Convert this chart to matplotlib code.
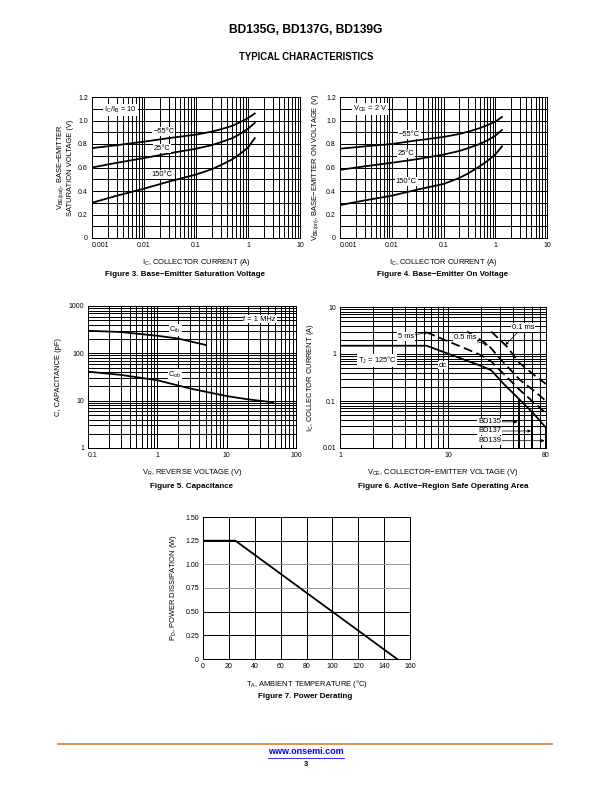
import numpy as np
import matplotlib
matplotlib.use('Agg')
import matplotlib.pyplot as plt
from matplotlib.ticker import LogLocator, FixedLocator, NullFormatter, FixedFormatter, MultipleLocator

plt.rcParams['font.family'] = ['Liberation Sans', 'DejaVu Sans']
plt.rcParams['font.size'] = 7
plt.rcParams['axes.linewidth'] = 1.0

# Figure 3: VBE(sat) vs IC (IC/IB = 10)
ic_sat = [0.001, 0.003, 0.01, 0.03, 0.1, 0.2, 0.3, 0.5, 0.7, 1.0, 1.35]
vbe_sat_m55 = [0.765, 0.79, 0.82, 0.85, 0.88, 0.905, 0.925, 0.955, 0.985, 1.02, 1.06]
vbe_sat_25 = [0.60, 0.64, 0.68, 0.72, 0.76, 0.79, 0.815, 0.85, 0.885, 0.93, 0.98]
vbe_sat_150 = [0.30, 0.36, 0.42, 0.48, 0.54, 0.585, 0.62, 0.67, 0.715, 0.77, 0.85]

# Figure 4: VBE(on) vs IC (VCE = 2 V)
ic_on = [0.001, 0.003, 0.01, 0.03, 0.1, 0.2, 0.3, 0.5, 0.7, 1.0, 1.35]
vbe_on_m55 = [0.76, 0.78, 0.80, 0.83, 0.86, 0.885, 0.905, 0.935, 0.96, 0.99, 1.03]
vbe_on_25 = [0.58, 0.61, 0.64, 0.67, 0.71, 0.74, 0.765, 0.80, 0.83, 0.87, 0.92]
vbe_on_150 = [0.28, 0.32, 0.36, 0.41, 0.46, 0.51, 0.55, 0.61, 0.655, 0.71, 0.78]

# Figure 5: capacitance
vr_cib = [0.1, 0.3, 1.0, 2.0, 5.0]
cib = [300, 282, 235, 205, 150]
vr_cob = [0.1, 0.3, 1.0, 3.0, 10.0, 20.0, 47.0]
cob = [41, 35, 27, 18, 12.5, 10.7, 9.2]

# Figure 6: safe operating area
vce_dc = [1, 6.3, 20, 25, 32, 46, 61, 80]
ic_dc = [1.5, 1.5, 0.56, 0.45, 0.24, 0.105, 0.055, 0.027]
vce_5ms = [6.3, 20, 25, 46, 80]
ic_5ms = [2.9, 0.95, 0.69, 0.17, 0.055]
vce_05ms = [15, 23.5, 30, 46, 61, 80]
ic_05ms = [3.0, 1.55, 0.8, 0.28, 0.17, 0.1]
vce_01ms = [25, 35, 45, 60, 80]
ic_01ms = [3.0, 1.42, 0.66, 0.38, 0.23]
bv_devices = ['BD135', 'BD137', 'BD139']
bv_vce = [45, 60, 80]
bv_ic = [0.105, 0.055, 0.027]

# Figure 7: power derating
ta = [0, 25, 150]
pd_w = [1.25, 1.25, 0.0]

W, H = 612, 792
LAB = 7.5
fig = plt.figure(figsize=(W / 72, H / 72), dpi=72)


def ax_at(l, t, r, b):
    return fig.add_axes([l / W, 1 - b / H, (r - l) / W, (b - t) / H])


def log_grid(ax, axis):
    a = ax.xaxis if axis == 'x' else ax.yaxis
    a.set_minor_locator(LogLocator(base=10, subs=np.arange(2, 10), numticks=20))
    a.set_minor_formatter(NullFormatter())


def finish(ax):
    ax.grid(True, which='both', color='black', lw=1.0)
    ax.tick_params(which='both', length=0, pad=4, labelsize=7)
    ax.set_axisbelow(True)


def lbl(ax, x, y, s, **kw):
    ax.text(x, y, s, ha='center', va='center', fontsize=LAB,
            bbox=dict(fc='white', ec='none', pad=0.8), zorder=5, **kw)


def vbe_chart(ax, ic, m55, t25, t150, box_txt, pos, ylabel):
    for v in (m55, t25, t150):
        ax.plot(ic, v, color='black', lw=1.8, zorder=4)
    ax.set_xscale('log')
    ax.set_xlim(0.001, 10)
    ax.set_ylim(0, 1.2)
    ax.xaxis.set_major_locator(FixedLocator([0.001, 0.01, 0.1, 1, 10]))
    ax.xaxis.set_major_formatter(FixedFormatter(['0.001', '0.01', '0.1', '1', '10']))
    log_grid(ax, 'x')
    ax.set_yticks([0, 0.2, 0.4, 0.6, 0.8, 1.0, 1.2])
    ax.set_yticklabels(['0', '0.2', '0.4', '0.6', '0.8', '1.0', '1.2'])
    ax.yaxis.set_minor_locator(MultipleLocator(0.1))
    finish(ax)
    ax.get_xticklabels()[0].set_ha('left')
    lbl(ax, pos[0][0], pos[0][1], box_txt)
    lbl(ax, pos[1][0], pos[1][1], '\u221255\u00b0C')
    lbl(ax, pos[2][0], pos[2][1], '25\u00b0C')
    lbl(ax, pos[3][0], pos[3][1], '150\u00b0C')
    ax.set_xlabel('I$_{\\mathregular{C}}$, COLLECTOR CURRENT (A)', fontsize=LAB, labelpad=8)
    ax.set_ylabel(ylabel, fontsize=LAB, labelpad=4, linespacing=1.0)


# Figure 3
ax1 = ax_at(92, 97, 300, 238)
vbe_chart(ax1, ic_sat, vbe_sat_m55, vbe_sat_25, vbe_sat_150,
          'I$_{\\mathregular{C}}$/I$_{\\mathregular{B}}$ = 10',
          [(0.0035, 1.09), (0.024, 0.905), (0.022, 0.76), (0.022, 0.54)],
          'V$_{\\mathregular{BE(sat)}}$, BASE\u2212EMITTER\nSATURATION VOLTAGE (V)')

# Figure 4
ax2 = ax_at(340, 97, 547, 238)
vbe_chart(ax2, ic_on, vbe_on_m55, vbe_on_25, vbe_on_150,
          'V$_{\\mathregular{CE}}$ = 2 V',
          [(0.0038, 1.10), (0.022, 0.88), (0.019, 0.72), (0.019, 0.48)],
          'V$_{\\mathregular{BE(on)}}$, BASE\u2212EMITTER ON VOLTAGE (V)')

# Figure 5
ax3 = ax_at(88, 306, 296, 448)
ax3.plot(vr_cib, cib, color='black', lw=1.8, zorder=4)
ax3.plot(vr_cob, cob, color='black', lw=1.8, zorder=4)
ax3.set_xscale('log')
ax3.set_yscale('log')
ax3.set_xlim(0.1, 100)
ax3.set_ylim(1, 1000)
ax3.xaxis.set_major_locator(FixedLocator([0.1, 1, 10, 100]))
ax3.xaxis.set_major_formatter(FixedFormatter(['0.1', '1', '10', '100']))
ax3.yaxis.set_major_locator(FixedLocator([1, 10, 100, 1000]))
ax3.yaxis.set_major_formatter(FixedFormatter(['1', '10', '100', '1000']))
log_grid(ax3, 'x')
log_grid(ax3, 'y')
finish(ax3)
ax3.get_xticklabels()[0].set_ha('left')
lbl(ax3, 1.8, 310, 'C$_{\\mathregular{ib}}$')
lbl(ax3, 1.8, 35, 'C$_{\\mathregular{ob}}$')
lbl(ax3, 30, 530, 'f = 1 MHz')
ax3.set_xlabel('V$_{\\mathregular{R}}$, REVERSE VOLTAGE (V)', fontsize=LAB, labelpad=8)
ax3.set_ylabel('C, CAPACITANCE (pF)', fontsize=LAB, labelpad=6)

# Figure 6
ax4 = ax_at(340, 307, 546, 448)
ax4.plot(vce_dc, ic_dc, color='black', lw=1.8, zorder=4)
for xs, ys in ((vce_5ms, ic_5ms), (vce_05ms, ic_05ms), (vce_01ms, ic_01ms)):
    ax4.plot(xs, ys, color='black', lw=1.8, dashes=(5, 2.5), zorder=4)
for v, i in zip(bv_vce, bv_ic):
    ax4.plot([v, v], [i, 0.01], color='black', lw=2.0, zorder=4)
ax4.set_xscale('log')
ax4.set_yscale('log')
ax4.set_xlim(1, 80)
ax4.set_ylim(0.01, 10)
ax4.xaxis.set_major_locator(FixedLocator([1, 10, 80]))
ax4.xaxis.set_major_formatter(FixedFormatter(['1', '10', '80']))
ax4.xaxis.set_minor_locator(FixedLocator([2, 3, 4, 5, 6, 7, 8, 9, 20, 30, 40, 50, 60, 70]))
ax4.xaxis.set_minor_formatter(NullFormatter())
ax4.yaxis.set_major_locator(FixedLocator([0.01, 0.1, 1, 10]))
ax4.yaxis.set_major_formatter(FixedFormatter(['0.01', '0.1', '1', '10']))
log_grid(ax4, 'y')
finish(ax4)
arr = dict(arrowstyle='-|>', lw=0.7, color='black', mutation_scale=6, shrinkA=0, shrinkB=0)
bb = dict(fc='white', ec='none', pad=0.8)
ax4.annotate('5 ms', xy=(6.5, 2.9), xytext=(4.1, 2.35), ha='center', va='center', fontsize=LAB,
             bbox=bb, arrowprops=arr, zorder=6)
ax4.annotate('0.5 ms', xy=(23.3, 1.55), xytext=(14.3, 2.2), ha='center', va='center', fontsize=LAB,
             bbox=bb, arrowprops=arr, zorder=6)
ax4.annotate('0.1 ms', xy=(33.5, 1.55), xytext=(49, 3.7), ha='center', va='center', fontsize=LAB,
             bbox=bb, arrowprops=arr, zorder=6)
lbl(ax4, 2.2, 0.74, 'T$_{\\mathregular{J}}$ = 125\u00b0C')
lbl(ax4, 8.9, 0.58, 'dc')
for name, v, yy in zip(bv_devices, bv_vce, [0.036, 0.023, 0.0143]):
    ax4.annotate(name, xy=(v * 0.97, yy), xytext=(24, yy), ha='center', va='center', fontsize=LAB,
                 bbox=bb, arrowprops=arr, zorder=6)
ax4.set_xlabel('V$_{\\mathregular{CE}}$, COLLECTOR\u2212EMITTER VOLTAGE (V)', fontsize=LAB, labelpad=8)
ax4.set_ylabel('I$_{\\mathregular{C}}$, COLLECTOR CURRENT (A)', fontsize=LAB, labelpad=6)

# Figure 7
ax5 = ax_at(203, 517, 410, 659)
ax5.plot(ta, pd_w, color='black', lw=1.8, zorder=4)
ax5.set_xlim(0, 160)
ax5.set_ylim(0, 1.5)
ax5.set_xticks(np.arange(0, 161, 20))
ax5.set_yticks([0, 0.25, 0.5, 0.75, 1.0, 1.25, 1.5])
ax5.set_yticklabels(['0', '0.25', '0.50', '0.75', '1.00', '1.25', '1.50'])
ax5.tick_params(length=0, pad=4, labelsize=7)
for xv in np.arange(20, 160, 20):
    ax5.axvline(xv, color='black', lw=1.0, zorder=1)
for yv in [0.25, 0.5, 1.25]:
    ax5.axhline(yv, color='black', lw=1.0, zorder=1)
for yv in [0.75, 1.0]:
    ax5.axhline(yv, color='#9a9a9a', lw=1.0, zorder=1)
ax5.set_xlabel('T$_{\\mathregular{A}}$, AMBIENT TEMPERATURE (\u00b0C)', fontsize=LAB, labelpad=8)
ax5.set_ylabel('P$_{\\mathregular{D}}$, POWER DISSIPATION (W)', fontsize=LAB, labelpad=6)

# page text
fig.text(306 / W, 1 - 30 / H, 'BD135G, BD137G, BD139G', ha='center', va='center',
         fontsize=12, fontweight='bold')
fig.text(306 / W, 1 - 57 / H, 'TYPICAL CHARACTERISTICS', ha='center', va='center',
         fontsize=9.5, fontweight='bold')
caps = [(185, 275, 'Figure 3. Base\u2212Emitter Saturation Voltage'),
        (443, 275, 'Figure 4. Base\u2212Emitter On Voltage'),
        (192, 486, 'Figure 5. Capacitance'),
        (443, 486, 'Figure 6. Active\u2212Region Safe Operating Area'),
        (305, 696, 'Figure 7. Power Derating')]
for x, y, s in caps:
    fig.text(x / W, 1 - y / H, s, ha='center', va='center', fontsize=8, fontweight='bold')

fig.add_artist(plt.Line2D([58 / W, 552 / W], [1 - 744 / H, 1 - 744 / H], color='#d9782d', lw=1.6))
fig.text(306 / W, 1 - 752 / H, 'www.onsemi.com', ha='center', va='center',
         fontsize=9, fontweight='bold', color='#0000ee')
fig.add_artist(plt.Line2D([268 / W, 344 / W], [1 - 757.5 / H, 1 - 757.5 / H], color='#0000ee', lw=0.8))
fig.text(306 / W, 1 - 764 / H, '3', ha='center', va='center', fontsize=7.5, fontweight='bold')

fig.savefig('out.png', dpi=72)
